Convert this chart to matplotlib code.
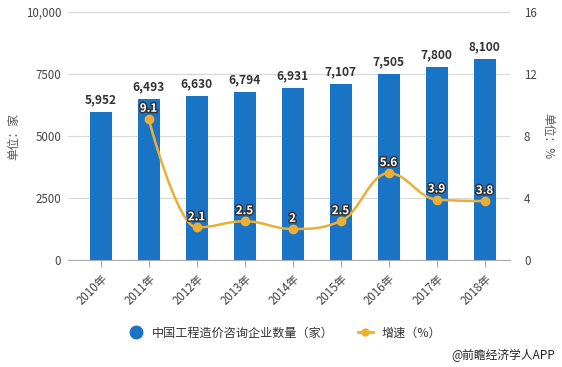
import matplotlib
matplotlib.use("Agg")
import matplotlib.pyplot as plt
import matplotlib.patheffects as pe
from matplotlib.path import Path
from matplotlib.patches import PathPatch
from matplotlib.lines import Line2D
from matplotlib.ticker import FixedLocator, FixedFormatter

plt.rcParams['font.family'] = ['Noto Sans CJK SC', 'DejaVu Sans']

# 数据
years = ['2010年', '2011年', '2012年', '2013年', '2014年', '2015年', '2016年', '2017年', '2018年']
counts = [5952, 6493, 6630, 6794, 6931, 7107, 7505, 7800, 8100]
growth_x = [1, 2, 3, 4, 5, 6, 7, 8]
growth = [9.1, 2.1, 2.5, 2.0, 2.5, 5.6, 3.9, 3.8]
growth_labels = ['9.1', '2.1', '2.5', '2', '2.5', '5.6', '3.9', '3.8']
left_ticks = [0, 2500, 5000, 7500, 10000]
left_tick_labels = ['0', '2500', '5000', '7500', '10,000']
right_ticks = [0, 4, 8, 12, 16]

bar_color = '#1a74c6'
line_color = '#ebae36'
txt_color = '#333333'
grid_color = '#d8d8d8'


def spline_path(xs, ys, smoothing=1.5):
    # curva liscia stile highcharts (bezier cubiche tra i punti)
    n = len(xs)
    conts = []
    for i in range(n):
        if i == 0 or i == n - 1:
            conts.append(None)
            continue
        px, py = xs[i - 1], ys[i - 1]
        nx, ny = xs[i + 1], ys[i + 1]
        x, y = xs[i], ys[i]
        lcx = (smoothing * x + px) / (smoothing + 1)
        lcy = (smoothing * y + py) / (smoothing + 1)
        rcx = (smoothing * x + nx) / (smoothing + 1)
        rcy = (smoothing * y + ny) / (smoothing + 1)
        corr = ((rcy - lcy) * (rcx - x)) / (rcx - lcx) + y - rcy
        lcy += corr
        rcy += corr
        if lcy > py and lcy > y:
            lcy = max(py, y)
            rcy = 2 * y - lcy
        elif lcy < py and lcy < y:
            lcy = min(py, y)
            rcy = 2 * y - lcy
        if rcy > ny and rcy > y:
            rcy = max(ny, y)
            lcy = 2 * y - rcy
        elif rcy < ny and rcy < y:
            rcy = min(ny, y)
            lcy = 2 * y - rcy
        conts.append(((lcx, lcy), (rcx, rcy)))
    verts = [(xs[0], ys[0])]
    codes = [Path.MOVETO]
    for i in range(1, n):
        c1 = conts[i - 1][1] if conts[i - 1] else (xs[i - 1], ys[i - 1])
        c2 = conts[i][0] if conts[i] else (xs[i], ys[i])
        verts += [c1, c2, (xs[i], ys[i])]
        codes += [Path.CURVE4] * 3
    return Path(verts, codes)


fig = plt.figure(figsize=(5.62, 3.67), dpi=100)
ax = fig.add_axes([68 / 562, 1 - 260 / 367, (510 - 68) / 562, (260 - 12) / 367])
ax2 = ax.twinx()

x = list(range(len(years)))
ax.bar(x, counts, width=0.46, color=bar_color, zorder=2)
for xi, v in zip(x, counts):
    ax.annotate(f'{v:,}', (xi, v), xytext=(0, 4), textcoords='offset points',
                ha='center', va='bottom', fontsize=8.6, fontweight='bold', color=txt_color)

ax.set_xlim(-0.68, 8.53)
ax.set_ylim(0, 10000)
ax.yaxis.set_major_locator(FixedLocator(left_ticks))
ax.yaxis.set_major_formatter(FixedFormatter(left_tick_labels))
ax.grid(axis='y', color=grid_color, linewidth=0.8, zorder=0)
ax.set_axisbelow(True)
ax.set_xticks(x)
ax.set_xticklabels(years, rotation=45, ha='right', rotation_mode='anchor')
ax.tick_params(axis='x', length=5, color='#aaaaaa', colors='#444444', labelsize=8.3)
ax.tick_params(axis='y', length=0, colors='#444444', labelsize=8.3, pad=5)
for s in ['top', 'right', 'left']:
    ax.spines[s].set_visible(False)
ax.spines['bottom'].set_color('#aaaaaa')
ax.set_ylabel('单位：家', fontsize=8.5, color='#555555', labelpad=4)

ax2.set_ylim(0, 16)
ax2.set_yticks(right_ticks)
ax2.tick_params(axis='y', length=0, colors='#444444', labelsize=8.3, pad=10)
for s in ax2.spines.values():
    s.set_visible(False)
ax2.set_ylabel('单位：%', fontsize=8.5, color='#555555', rotation=270, labelpad=13)

ax2.add_patch(PathPatch(spline_path(growth_x, growth), facecolor='none',
                        edgecolor=line_color, linewidth=1.8, zorder=3))
ax2.plot(growth_x, growth, linestyle='none', marker='o', markersize=6,
         color=line_color, zorder=4)
for xi, v, lab in zip(growth_x, growth, growth_labels):
    ax2.annotate(lab, (xi, v), xytext=(0, 3), textcoords='offset points',
                 ha='center', va='bottom', fontsize=8.3, fontweight='bold', color='white',
                 path_effects=[pe.withStroke(linewidth=2.2, foreground='#333333')], zorder=5)

# legenda
handles = [
    Line2D([], [], linestyle='none', marker='o', markersize=9, color=bar_color),
    Line2D([], [], color=line_color, marker='o', markersize=5, linewidth=2),
]
fig.legend(handles, ['中国工程造价咨询企业数量（家）', '增速（%）'],
           loc='center', bbox_to_anchor=(285 / 562, 1 - 333 / 367), ncol=2,
           frameon=False, fontsize=8.7, handlelength=1.2, handletextpad=0.7,
           columnspacing=2.0, labelcolor=txt_color)

fig.text(555 / 562, 1 - 355 / 367, '@前瞻经济学人APP', ha='right', va='center',
         fontsize=8.5, color='#222222')

fig.savefig('out.png', dpi=100)
